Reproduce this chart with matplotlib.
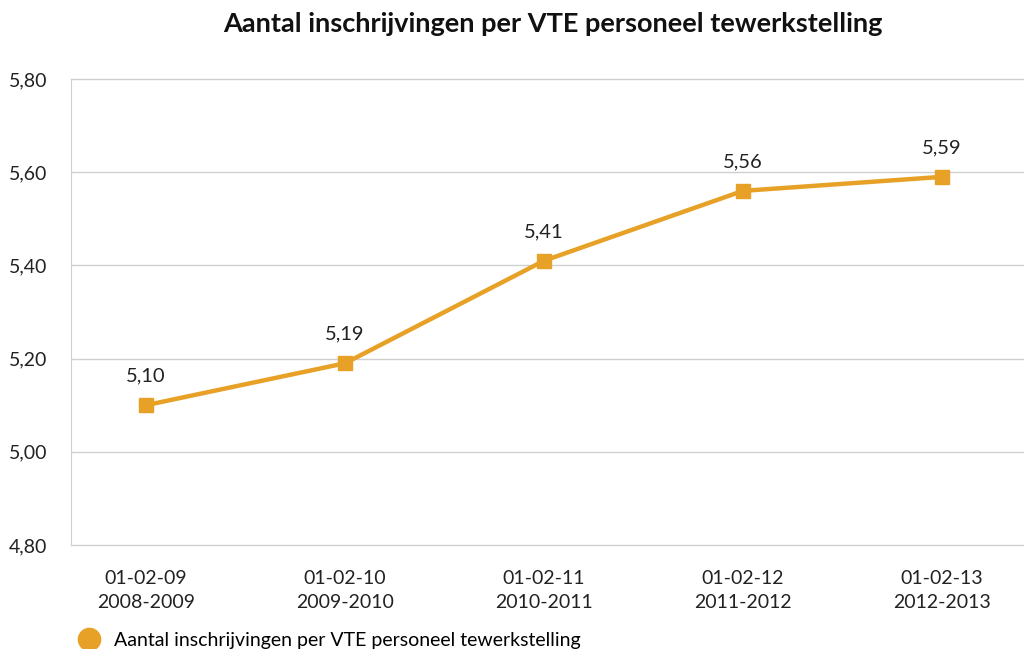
import matplotlib.pyplot as plt
from matplotlib.lines import Line2D

plt.rcParams["font.family"] = ["Lato", "DejaVu Sans"]

datums = ["01-02-09", "01-02-10", "01-02-11", "01-02-12", "01-02-13"]
schooljaren = ["2008-2009", "2009-2010", "2010-2011", "2011-2012", "2012-2013"]
inschrijvingen_per_vte = [5.10, 5.19, 5.41, 5.56, 5.59]

kleur = "#E8A127"
reeks = "Aantal inschrijvingen per VTE personeel tewerkstelling"

fig = plt.figure(figsize=(10.24, 6.49), dpi=100)
ax = fig.add_axes([71 / 1024, 1 - 545 / 649, (1024 - 71) / 1024, (545 - 79) / 649])

x = list(range(len(datums)))
ax.plot(x, inschrijvingen_per_vte, color=kleur, linewidth=3.2, marker="s",
        markersize=10, zorder=3)
for xi, v in zip(x, inschrijvingen_per_vte):
    ax.annotate(f"{v:.2f}".replace(".", ","), (xi, v), xytext=(0, 15),
                textcoords="offset points", ha="center", va="bottom",
                fontsize=14.5, color="#222222")

ax.set_ylim(4.8, 5.8)
ax.set_yticks([4.8, 5.0, 5.2, 5.4, 5.6, 5.8])
ax.set_yticklabels([f"{t:.2f}".replace(".", ",") for t in ax.get_yticks()])
ax.set_xlim(-75 / 199, (1024 - 146) / 199)
ax.set_xticks(x)
ax.set_xticklabels([f"{d}\n{s}" for d, s in zip(datums, schooljaren)],
                   linespacing=1.5)

ax.grid(axis="y", color="#d0d0d0", linewidth=1)
for g in ax.get_ygridlines():
    g.set_clip_on(False)
ax.set_axisbelow(True)
for side in ["top", "right", "bottom"]:
    ax.spines[side].set_visible(False)
ax.spines["left"].set_color("#d0d0d0")
ax.tick_params(axis="both", length=0, labelsize=14, colors="#222222")
ax.tick_params(axis="y", pad=17)
ax.tick_params(axis="x", pad=18)

fig.text(553 / 1024, 1 - 24 / 649, reeks, ha="center", va="center",
         fontsize=19.5, fontweight="bold", color="#111111")

handle = Line2D([], [], color=kleur, marker="o", linestyle="none", markersize=16)
fig.legend([handle], [reeks], loc="lower left", bbox_to_anchor=(62 / 1024, -8 / 649),
           frameon=False, fontsize=14, handletextpad=0.3, borderaxespad=0)

fig.savefig("out.png", dpi=100)
